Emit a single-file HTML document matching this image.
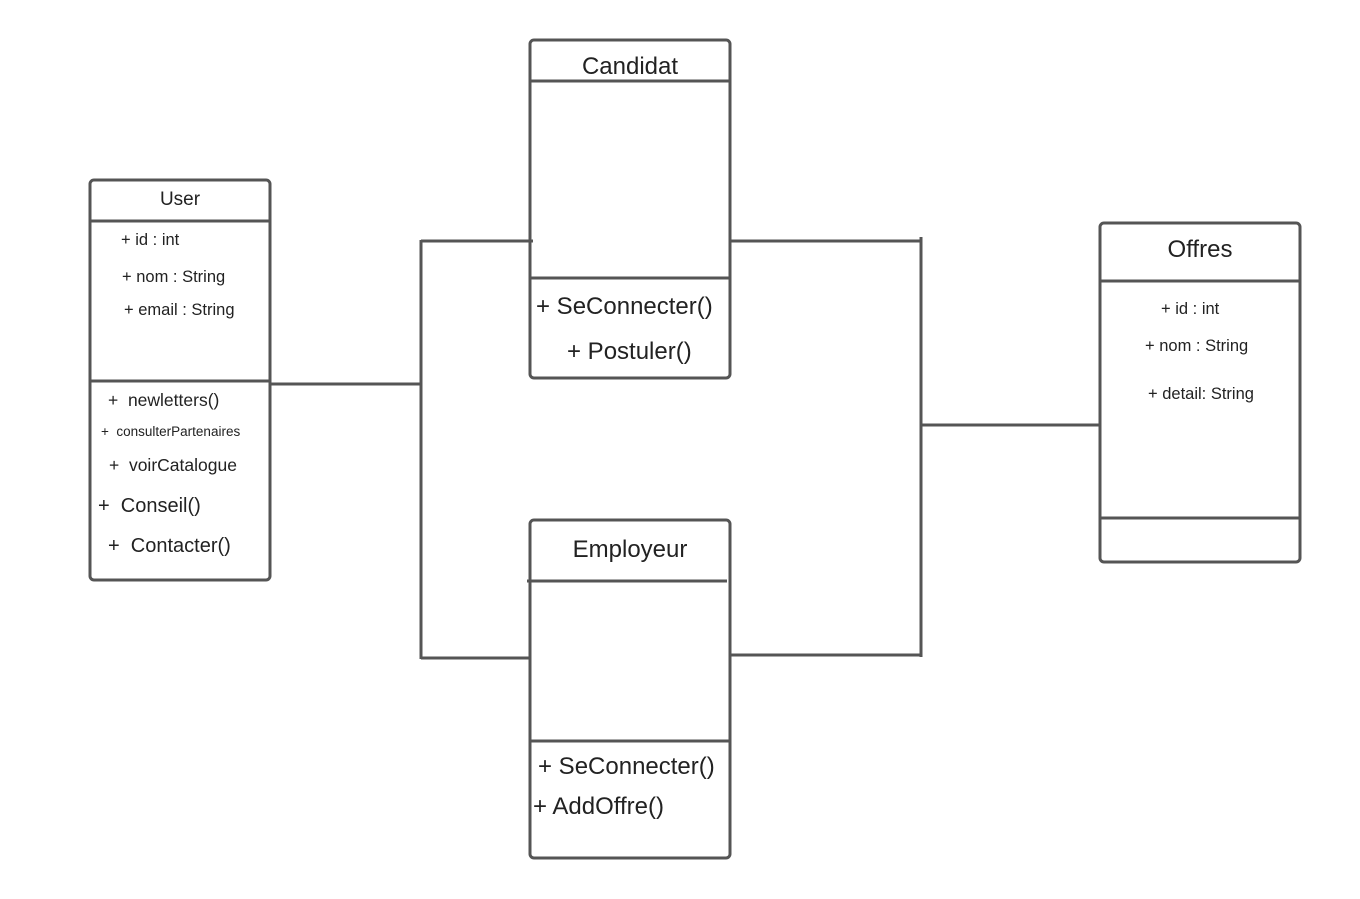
<!DOCTYPE html>
<html><head><meta charset="utf-8"><style>
html,body{margin:0;padding:0;background:#fff;}
svg{display:block;}
text{font-family:"Liberation Sans",sans-serif;fill:#222;white-space:pre;}
</style></head><body>
<svg width="1360" height="899" viewBox="0 0 1360 899" xmlns="http://www.w3.org/2000/svg" xml:space="preserve">
<g fill="#fff" stroke="#555" stroke-width="3">
<rect x="90" y="180" width="180" height="400" rx="4"/>
<rect x="530" y="40" width="200" height="338" rx="4"/>
<rect x="530" y="520" width="200" height="338" rx="4"/>
<rect x="1100" y="223" width="200" height="339" rx="4"/>
</g>
<g stroke="#555" stroke-width="3" fill="none">
<line x1="90" y1="221" x2="270" y2="221"/>
<line x1="90" y1="381" x2="270" y2="381"/>
<line x1="530" y1="81" x2="730" y2="81"/>
<line x1="530" y1="278" x2="730" y2="278"/>
<line x1="527" y1="581" x2="727" y2="581"/>
<line x1="530" y1="741" x2="730" y2="741"/>
<line x1="1100" y1="281" x2="1300" y2="281"/>
<line x1="1100" y1="518" x2="1300" y2="518"/>
<line x1="270" y1="384" x2="421" y2="384"/>
<line x1="421" y1="240" x2="421" y2="659"/>
<line x1="421" y1="241" x2="533" y2="241"/>
<line x1="421" y1="658" x2="530" y2="658"/>
<line x1="730" y1="241" x2="921" y2="241"/>
<line x1="921" y1="237" x2="921" y2="657"/>
<line x1="730" y1="655" x2="921" y2="655"/>
<line x1="921" y1="425" x2="1100" y2="425"/>
</g>
<text x="180" y="205" font-size="19" text-anchor="middle">User</text>
<text x="121" y="245" font-size="16.5">+ id : int</text>
<text x="122" y="282" font-size="16.5">+ nom : String</text>
<text x="124" y="315" font-size="16.5">+ email : String</text>
<text x="108" y="406" font-size="17.5">+  newletters()</text>
<text x="101" y="436" font-size="13.5">+  consulterPartenaires</text>
<text x="109" y="471" font-size="17.5">+  voirCatalogue</text>
<text x="98" y="512" font-size="20">+  Conseil()</text>
<text x="108" y="552" font-size="20">+  Contacter()</text>
<text x="630" y="74" font-size="24" text-anchor="middle">Candidat</text>
<text x="536" y="314" font-size="24">+ SeConnecter()</text>
<text x="567" y="359" font-size="24">+ Postuler()</text>
<text x="630" y="557" font-size="24" text-anchor="middle">Employeur</text>
<text x="538" y="774" font-size="24">+ SeConnecter()</text>
<text x="533" y="814" font-size="24">+ AddOffre()</text>
<text x="1200" y="257" font-size="24" text-anchor="middle">Offres</text>
<text x="1161" y="314" font-size="16.5">+ id : int</text>
<text x="1145" y="351" font-size="16.5">+ nom : String</text>
<text x="1148" y="399" font-size="16.5">+ detail: String</text>
</svg>
</body></html>
